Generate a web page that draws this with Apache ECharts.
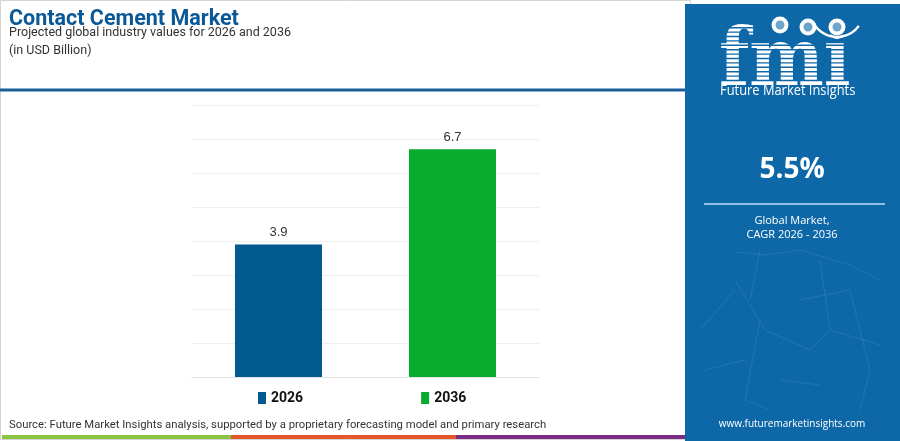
<!DOCTYPE html>
<html>
<head>
<meta charset="utf-8">
<script src="https://cdn.jsdelivr.net/npm/echarts@6/dist/echarts.min.js"></script>
<style>html,body{margin:0;padding:0;background:#fff}#c{width:900px;height:441px}</style>
</head>
<body>
<div id="c"></div>
<script>
const categories = ['2026', '2036'];
const values = [3.9, 6.7];
const seriesColors = ['#035a8f', '#07ab2e'];
const yTicks = [0, 8, 1]; // min, max, interval
const titleText = 'Contact Cement Market';
const subtitleLines = ['Projected global industry values for 2026 and 2036', '(in USD Billion)'];
const cagrText = '5.5%';
const cagrLabel = ['Global Market,', 'CAGR 2026 - 2036'];
const sourceText = 'Source: Future Market Insights analysis, supported by a proprietary forecasting model and primary research';

const chart = echarts.init(document.getElementById('c'), null, {renderer: 'canvas'});

const series = categories.map((cat, i) => ({
  name: cat,
  type: 'bar',
  stack: 'all',
  barWidth: '50%',
  data: categories.map((c, j) => (j === i ? values[i] : '-')),
  itemStyle: {color: seriesColors[i]},
  label: {show: true, position: 'top', distance: 5, color: '#333', fontSize: 13,
          fontFamily: 'Liberation Sans, Arial, sans-serif'}
}));

const PANEL = '#0e68a8';
const graphics = [];
// left panel border
graphics.push({type: 'rect', shape: {x: 0.5, y: 0.5, width: 690, height: 439}, style: {fill: 'none', stroke: '#d4d4d4', lineWidth: 1}, z: -1});
// blue separator line
graphics.push({type: 'rect', shape: {x: 0, y: 88.5, width: 686, height: 3}, style: {fill: '#1a5f9c'}});
// bottom stripes
graphics.push({type: 'rect', shape: {x: 2, y: 435, width: 229, height: 4}, style: {fill: '#8bc441'}});
graphics.push({type: 'rect', shape: {x: 231, y: 435, width: 225, height: 4}, style: {fill: '#e6572b'}});
graphics.push({type: 'rect', shape: {x: 456, y: 435, width: 230, height: 4}, style: {fill: '#7d2c84'}});
// right panel
graphics.push({type: 'rect', shape: {x: 685, y: 4, width: 215, height: 437}, style: {fill: PANEL}});
// faint network lines
const net = [[735,252,765,255],[765,255,800,250],[800,250,850,265],[850,265,880,280],[735,280,765,330],[765,330,810,350],[810,350,830,330],[830,330,880,345],[760,320,745,400],[745,400,770,410],[800,300,850,290],[850,290,870,370],[870,370,860,410],[780,380,820,385],[700,330,735,290],[705,370,745,360],[820,260,830,330],[760,250,750,300]];
net.forEach(l => graphics.push({type: 'line', shape: {x1: l[0], y1: l[1], x2: l[2], y2: l[3]}, style: {stroke: 'rgba(170,210,240,0.12)', lineWidth: 1}}));
// fmi logo
graphics.push({type: 'text', left: 719, top: 24, style: {text: 'fmi', fill: '#fff', font: 'bold 80px "DejaVu Serif"'}, scaleX: 0.88});
for (let y = 27; y < 84; y += 4.4) {
  graphics.push({type: 'rect', shape: {x: 715, y: y, width: 145, height: 1.4}, style: {fill: PANEL}});
}
[[780, 25], [808, 27], [837, 27]].forEach(p => {
  graphics.push({type: 'circle', shape: {cx: p[0], cy: p[1], r: 9.5}, style: {fill: PANEL}});
  graphics.push({type: 'circle', shape: {cx: p[0], cy: p[1], r: 8.5}, style: {fill: '#fff'}});
  graphics.push({type: 'circle', shape: {cx: p[0], cy: p[1], r: 4.5}, style: {fill: PANEL, opacity: 0.6}});
});
graphics.push({type: 'arc', shape: {cx: 837, cy: 10, r: 27, startAngle: Math.PI * 0.2, endAngle: Math.PI * 0.8}, style: {stroke: '#fff', lineWidth: 2.5, fill: 'none'}});
graphics.push({type: 'text', left: 720, top: 84, style: {text: 'Future Market Insights', fill: '#fff', font: '14px "Open Sans"'}, scaleX: 0.92});
graphics.push({type: 'text', x: 792, y: 170, style: {text: cagrText, fill: '#fff', font: 'bold 28px "Open Sans"', align: 'center', verticalAlign: 'middle'}});
graphics.push({type: 'rect', shape: {x: 704, y: 203, width: 181, height: 2}, style: {fill: '#8fbfe2'}});
graphics.push({type: 'text', x: 792, y: 228, style: {text: cagrLabel.join('\n'), fill: '#fff', font: '11px "Open Sans"', align: 'center', verticalAlign: 'middle', lineHeight: 14}});
graphics.push({type: 'text', x: 792, y: 424, style: {text: 'www.futuremarketinsights.com', fill: '#fff', font: '10px "Open Sans"', align: 'center', verticalAlign: 'middle'}});
// titles
graphics.push({type: 'text', x: 9, y: 20, style: {text: titleText, fill: '#0b5896', font: 'bold 21.5px Roboto', verticalAlign: 'middle'}});
graphics.push({type: 'text', x: 9, y: 33, style: {text: subtitleLines[0], fill: '#333', font: '12.5px Roboto', verticalAlign: 'middle'}});
graphics.push({type: 'text', x: 9, y: 50.5, style: {text: subtitleLines[1], fill: '#333', font: '12.5px Roboto', verticalAlign: 'middle'}});
// source
graphics.push({type: 'text', x: 9, y: 425, style: {text: sourceText, fill: '#333', font: '11.3px Roboto', verticalAlign: 'middle'}});

chart.setOption({
  animation: false,
  grid: {left: 191.5, right: 360.5, top: 105, bottom: 64},
  legend: {
    data: categories, left: 253, top: 386, itemWidth: 8, itemHeight: 12, itemGap: 118,
    icon: 'rect', textStyle: {fontSize: 14, fontWeight: 'bold', color: '#111', fontFamily: 'Roboto'}
  },
  xAxis: {type: 'category', data: categories, axisLine: {lineStyle: {color: '#e4e4e4'}}, axisTick: {show: false}, axisLabel: {show: false}},
  yAxis: {type: 'value', min: yTicks[0], max: yTicks[1], interval: yTicks[2], axisLabel: {show: false},
          axisLine: {show: false}, axisTick: {show: false}, splitLine: {lineStyle: {color: '#efefef'}}},
  series: series,
  graphic: {elements: graphics}
});
</script>
</body>
</html>
